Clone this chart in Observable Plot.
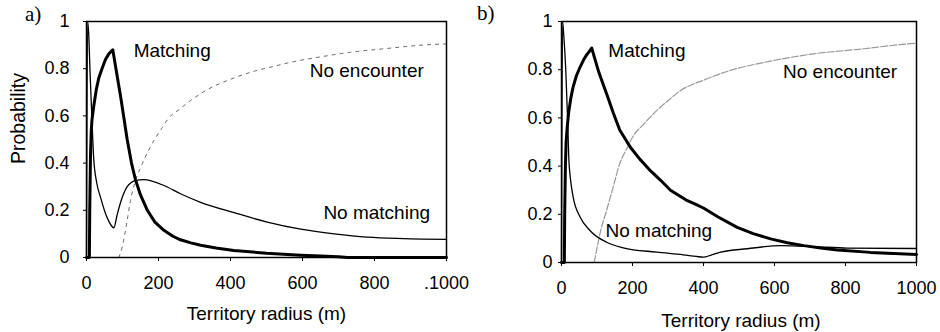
<!DOCTYPE html>
<html><head><meta charset="utf-8">
<script src="https://cdn.jsdelivr.net/npm/d3@7"></script>
<script src="https://cdn.jsdelivr.net/npm/@observablehq/plot@0.6"></script>
<style>
body{margin:0;background:#fff;}
#wrap{position:relative;width:940px;height:332px;overflow:hidden;background:#fff;}
.panel{position:absolute;top:0;}
.tag{position:absolute;font-family:"Liberation Serif","Times New Roman",serif;font-size:21px;line-height:21px;color:#000;}
</style></head><body><div id="wrap"></div>
<script>
// ---- axes ----
const xTicks = [0, 200, 400, 600, 800, 1000];
const yTicks = [0, 0.2, 0.4, 0.6, 0.8, 1];
const yTickLabels = ["0", "0.2", "0.4", "0.6", "0.8", "1"];
const xTickLabelsA = ["0", "200", "400", "600", "800", ".1000"];
const xTickLabelsB = ["0", "200", "400", "600", "800", "1000"];

// ---- data (panel a) ----
const matchA_r = [0, 8, 9, 11, 13, 15, 20, 27, 34, 43, 53, 63, 73, 84, 95, 104, 113, 125, 136, 150, 169, 190, 215, 240, 261, 290, 317, 360, 409, 500, 595, 650, 700, 725, 1000];
const matchA_p = [0, 0, 0.2, 0.42, 0.53, 0.58, 0.64, 0.71, 0.76, 0.80, 0.84, 0.865, 0.88, 0.78, 0.68, 0.59, 0.50, 0.40, 0.33, 0.265, 0.20, 0.15, 0.115, 0.09, 0.075, 0.062, 0.052, 0.04, 0.03, 0.018, 0.01, 0.006, 0.003, 0, 0];

const noMatchA_r = [0, 3, 6, 10, 16, 20, 28, 39, 57, 76, 85, 95, 113, 136, 159, 215, 261, 317, 410, 502, 595, 688, 780, 880, 1000];
const noMatchA_p = [0, 1, 0.95, 0.78, 0.55, 0.42, 0.32, 0.255, 0.17, 0.126, 0.18, 0.235, 0.30, 0.326, 0.33, 0.305, 0.27, 0.234, 0.19, 0.15, 0.12, 0.10, 0.086, 0.08, 0.077];

const noEncA_r = [90, 100, 113, 122, 135, 150, 178, 210, 228, 260, 289, 340, 400, 456, 520, 576, 650, 734, 830, 933, 1000];
const noEncA_p = [0, 0.05, 0.157, 0.24, 0.32, 0.38, 0.47, 0.55, 0.59, 0.63, 0.665, 0.715, 0.755, 0.785, 0.81, 0.83, 0.85, 0.87, 0.885, 0.90, 0.905];

// ---- data (panel b) ----
const matchB_r = [0, 8, 9, 11, 13, 16, 20, 26, 33, 42, 52, 62, 70, 78, 85, 95, 105, 116, 127, 146, 164, 194, 220, 251, 280, 307, 350, 380, 401, 440, 495, 540, 589, 636, 683, 730, 777, 870, 1000];
const matchB_p = [0, 0, 0.2, 0.4, 0.5, 0.56, 0.62, 0.68, 0.73, 0.775, 0.81, 0.84, 0.86, 0.875, 0.89, 0.84, 0.79, 0.745, 0.70, 0.62, 0.55, 0.478, 0.43, 0.38, 0.34, 0.30, 0.26, 0.24, 0.225, 0.19, 0.146, 0.12, 0.098, 0.082, 0.07, 0.06, 0.052, 0.042, 0.033];

const noMatchB_r = [0, 3, 6, 12, 17, 21, 25, 33, 52, 80, 127, 174, 268, 343, 380, 400, 420, 448, 523, 617, 711, 805, 1000];
const noMatchB_p = [0, 1, 0.95, 0.8, 0.6, 0.42, 0.35, 0.27, 0.19, 0.133, 0.084, 0.061, 0.043, 0.032, 0.025, 0.022, 0.03, 0.043, 0.057, 0.07, 0.066, 0.06, 0.058];

const noEncB_r = [92, 100, 110, 127, 145, 164, 183, 200, 232, 268, 307, 335, 401, 476, 570, 711, 852, 960, 1000];
const noEncB_p = [0, 0.06, 0.13, 0.216, 0.31, 0.41, 0.47, 0.52, 0.575, 0.63, 0.68, 0.713, 0.757, 0.797, 0.83, 0.866, 0.887, 0.905, 0.91];

// series labels
const labelText = ["Matching", "No encounter", "No matching"];
const labelA_r = [131, 620, 658];
const labelA_p = [0.877, 0.79, 0.19];
const labelB_r = [132, 624, 124];
const labelB_p = [0.88, 0.79, 0.133];

// ---- build ----
const pts = (r, p) => r.map((x, i) => ({x, y: p[i]}));
const FONT = "'Liberation Sans', Arial, sans-serif";

function panel(o) {
  return Plot.plot({
    width: 470, height: 332,
    marginLeft: o.ml, marginRight: o.mr, marginTop: o.mt, marginBottom: o.mb,
    style: {fontFamily: FONT, fontSize: "18px", background: "white", color: "black", overflow: "visible"},
    x: {domain: [0, 1000]},
    y: {domain: [0, 1]},
    marks: [
      Plot.axisX({ticks: xTicks, tickSize: 4, tickPadding: 15, label: null, fontSize: 18,
        tickFormat: d => o.xLabels[xTicks.indexOf(d)]}),
      Plot.axisY({ticks: yTicks, tickSize: 3, tickPadding: o.yPad, label: null, fontSize: 18,
        tickFormat: d => yTickLabels[yTicks.indexOf(d)]}),
      Plot.line(pts(o.enc_r, o.enc_p), {x: "x", y: "y", stroke: o.encColor, strokeWidth: o.encWidth, strokeDasharray: o.encDash, curve: "monotone-x"}),
      Plot.line(pts(o.nm_r, o.nm_p), {x: "x", y: "y", stroke: "black", strokeWidth: 1.3, curve: "monotone-x"}),
      Plot.line(pts(o.m_r, o.m_p), {x: "x", y: "y", stroke: "black", strokeWidth: 3, curve: "linear"}),
      Plot.frame({stroke: "black", strokeWidth: 1.5}),
      Plot.text(labelText.map((t, i) => ({t, x: o.lab_r[i], y: o.lab_p[i]})),
        {x: "x", y: "y", text: "t", textAnchor: "start", fontSize: 19, fill: "black"}),
      Plot.text(["Territory radius (m)"], {frameAnchor: "bottom", textAnchor: "middle", lineAnchor: "middle", dx: o.xlDx, dy: o.xlDy, fontSize: 19, fill: "black"}),
      ...(o.ylab ? [Plot.text(["Probability"], {frameAnchor: "left", textAnchor: "middle", lineAnchor: "middle", dx: -67.5, dy: -21, rotate: -90, fontSize: 19.5, fill: "black"})] : [])
    ]
  });
}

const wrap = document.getElementById("wrap");
const pa = panel({ml: 86, mr: 24, mt: 21, mb: 75, yPad: 14, xLabels: xTickLabelsA,
  m_r: matchA_r, m_p: matchA_p, nm_r: noMatchA_r, nm_p: noMatchA_p, enc_r: noEncA_r, enc_p: noEncA_p,
  encColor: "#666", encWidth: 1, encDash: "3,5", lab_r: labelA_r, lab_p: labelA_p, xlDx: 0, xlDy: 56, ylab: true});
pa.classList.add("panel"); pa.style.left = "0px";
wrap.appendChild(pa);

const pb = panel({ml: 91, mr: 24, mt: 21, mb: 70, yPad: 6, xLabels: xTickLabelsB,
  m_r: matchB_r, m_p: matchB_p, nm_r: noMatchB_r, nm_p: noMatchB_p, enc_r: noEncB_r, enc_p: noEncB_p,
  encColor: "#999", encWidth: 1.2, encDash: "7,2", lab_r: labelB_r, lab_p: labelB_p, xlDx: 2, xlDy: 58, ylab: false});
pb.classList.add("panel"); pb.style.left = "470px";
wrap.appendChild(pb);

const ta = document.createElement("div"); ta.className = "tag"; ta.textContent = "a)";
ta.style.left = "25px"; ta.style.top = "4px"; wrap.appendChild(ta);
const tb = document.createElement("div"); tb.className = "tag"; tb.textContent = "b)";
tb.style.left = "477px"; tb.style.top = "3px"; wrap.appendChild(tb);
</script></body></html>
